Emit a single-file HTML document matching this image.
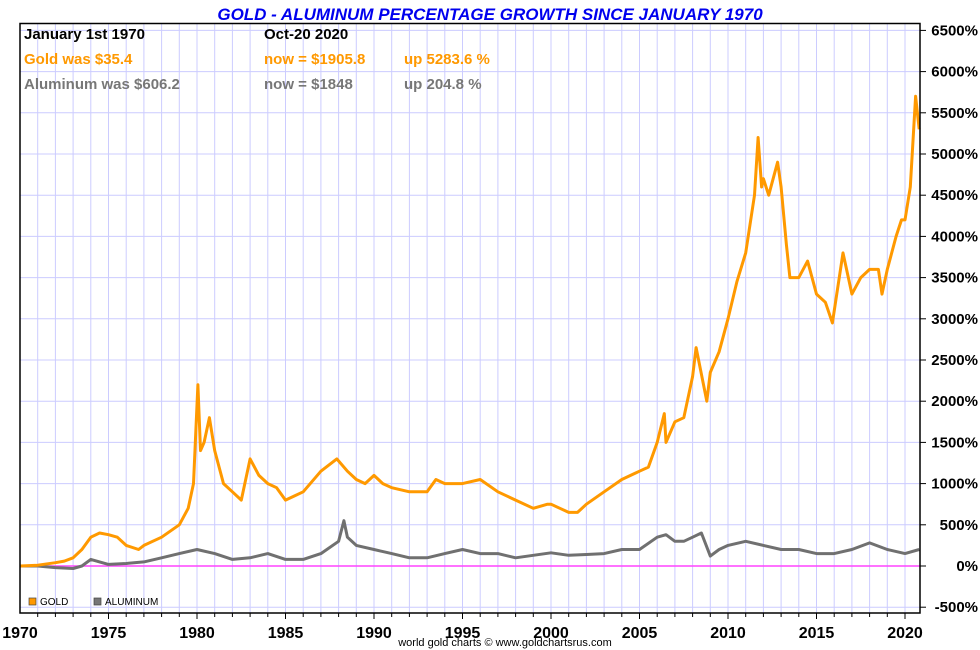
<!DOCTYPE html>
<html><head><meta charset="utf-8"><style>
html,body{margin:0;padding:0;background:#fff}
svg{display:block;font-family:"Liberation Sans",Arial,sans-serif}
</style></head><body>
<svg id="chart" width="980" height="650">
<text x="490" y="20" text-anchor="middle" font-size="17" font-weight="bold" font-style="italic" fill="#0000ee">GOLD - ALUMINUM PERCENTAGE GROWTH SINCE JANUARY 1970</text>
<g id="grid"></g>
<line x1="20" y1="566" x2="920" y2="566" stroke="#ff44ff" stroke-width="1.5"/>
<g id="series"></g>
<rect x="20" y="23.5" width="900" height="589.5" fill="none" stroke="#000" stroke-width="1.5"/>
<g id="axes"></g>
<g font-size="15" font-weight="bold">
<text x="24" y="39" fill="#000">January 1st 1970</text>
<text x="264" y="39" fill="#000">Oct-20  2020</text>
<text x="24" y="64" fill="#ff9900">Gold was $35.4</text>
<text x="264" y="64" fill="#ff9900">now = $1905.8</text>
<text x="404" y="64" fill="#ff9900">up 5283.6 %</text>
<text x="24" y="89" fill="#777">Aluminum was $606.2</text>
<text x="264" y="89" fill="#777">now = $1848</text>
<text x="404" y="89" fill="#777">up 204.8 %</text>
</g>
<g font-size="10">
<g><rect x="29" y="598" width="7" height="7" fill="#ff9900" stroke="#444" stroke-width="0.7"/><text x="40" y="605">GOLD</text></g>
<g><rect x="94" y="598" width="7" height="7" fill="#777" stroke="#444" stroke-width="0.7"/><text x="105" y="605">ALUMINUM</text></g>
</g>
<text x="505" y="646" text-anchor="middle" font-size="11" fill="#000">world gold charts © www.goldchartsrus.com</text>
</svg>
<script>
const yTicks=[6500,6000,5500,5000,4500,4000,3500,3000,2500,2000,1500,1000,500,0,-500];
const xTickYears=[1970,1975,1980,1985,1990,1995,2000,2005,2010,2015,2020];
const goldYears=[1970,1971,1972,1972.5,1973,1973.5,1974,1974.5,1975,1975.5,1976,1976.7,1977,1978,1979,1979.5,1979.8,1980.05,1980.2,1980.4,1980.7,1981,1981.5,1982,1982.5,1983,1983.5,1984,1984.5,1985,1985.5,1986,1987,1987.9,1988.5,1989,1989.5,1990,1990.5,1991,1992,1993,1993.5,1994,1995,1996,1997,1998,1999,1999.8,2000,2000.5,2001,2001.5,2002,2003,2004,2005,2005.5,2006,2006.4,2006.5,2007,2007.5,2008,2008.2,2008.8,2009,2009.5,2010,2010.5,2011,2011.5,2011.7,2011.9,2012,2012.3,2012.8,2013,2013.3,2013.5,2014,2014.5,2015,2015.5,2015.9,2016.5,2017,2017.5,2018,2018.5,2018.7,2019,2019.5,2019.8,2020,2020.3,2020.6,2020.8];
const goldPct=[0,10,40,60,100,200,350,400,380,350,250,200,250,350,500,700,1000,2200,1400,1500,1800,1400,1000,900,800,1300,1100,1000,950,800,850,900,1150,1300,1150,1050,1000,1100,1000,950,900,900,1050,1000,1000,1050,900,800,700,750,750,700,650,650,750,900,1050,1150,1200,1500,1850,1500,1750,1800,2300,2650,2000,2350,2600,3000,3450,3800,4500,5200,4600,4700,4500,4900,4600,3900,3500,3500,3700,3300,3200,2950,3800,3300,3500,3600,3600,3300,3600,4000,4200,4200,4600,5700,5300];
const aluYears=[1970,1971,1972,1973,1973.5,1974,1974.5,1975,1976,1977,1978,1979,1980,1981,1982,1983,1984,1985,1986,1987,1988,1988.3,1988.5,1989,1990,1991,1992,1993,1994,1995,1996,1997,1998,1999,2000,2001,2002,2003,2004,2005,2006,2006.5,2007,2007.5,2008,2008.5,2009,2009.5,2010,2011,2012,2013,2014,2015,2016,2017,2018,2019,2020,2020.8];
const aluPct=[0,0,-20,-30,0,80,50,20,30,50,100,150,200,150,80,100,150,80,80,150,300,550,350,250,200,150,100,100,150,200,150,150,100,130,160,130,140,150,200,200,350,380,300,300,350,400,120,200,250,300,250,200,200,150,150,200,280,200,150,200];

const NS='http://www.w3.org/2000/svg';
const xS=yr=>20+(yr-1970)*17.7;
const yS=p=>566-p/500*41.2;
const grid=document.getElementById('grid'),axes=document.getElementById('axes'),series=document.getElementById('series');
function mk(tag,attrs,parent){const e=document.createElementNS(NS,tag);for(const k in attrs)e.setAttribute(k,attrs[k]);parent.appendChild(e);return e;}
for(let yr=1971;yr<=2020;yr++){
  const l=mk('line',{x1:xS(yr),x2:xS(yr),y1:24,y2:613,stroke:'#ccccff','stroke-width':1},grid);
  
  
  const t=mk('line',{x1:xS(yr),x2:xS(yr),y1:613,y2:(yr%5===0?619:617),stroke:'#000'},axes);
  
  
}
yTicks.forEach(v=>{
  const l=mk('line',{x1:20,x2:920,y1:yS(v),y2:yS(v),stroke:'#ccccff','stroke-width':1},grid);
  
  
  const t=mk('line',{x1:920,x2:926,y1:yS(v),y2:yS(v),stroke:'#000'},axes);
  
  
  const tx=mk('text',{x:978,y:yS(v)+5,'text-anchor':'end','font-size':15,'font-weight':'bold'},axes);
  tx.textContent=v+'%';
  
  
});
xTickYears.forEach(yr=>{
  const tx=mk('text',{x:xS(yr),y:638,'text-anchor':'middle','font-size':16,'font-weight':'bold'},axes);
  tx.textContent=yr;
  
  
});
function line(ys,vs,color,name){
  const d=ys.map((y,i)=>(i?'L':'M')+xS(y).toFixed(1)+','+yS(vs[i]).toFixed(1)).join('');
  const p=mk('path',{d:d,fill:'none',stroke:color,'stroke-width':3,'stroke-linejoin':'round'},series);
  
  
}
line(aluYears,aluPct,'#707070','aluminum-line');
line(goldYears,goldPct,'#ff9900','gold-line');
</script>
</body></html>
